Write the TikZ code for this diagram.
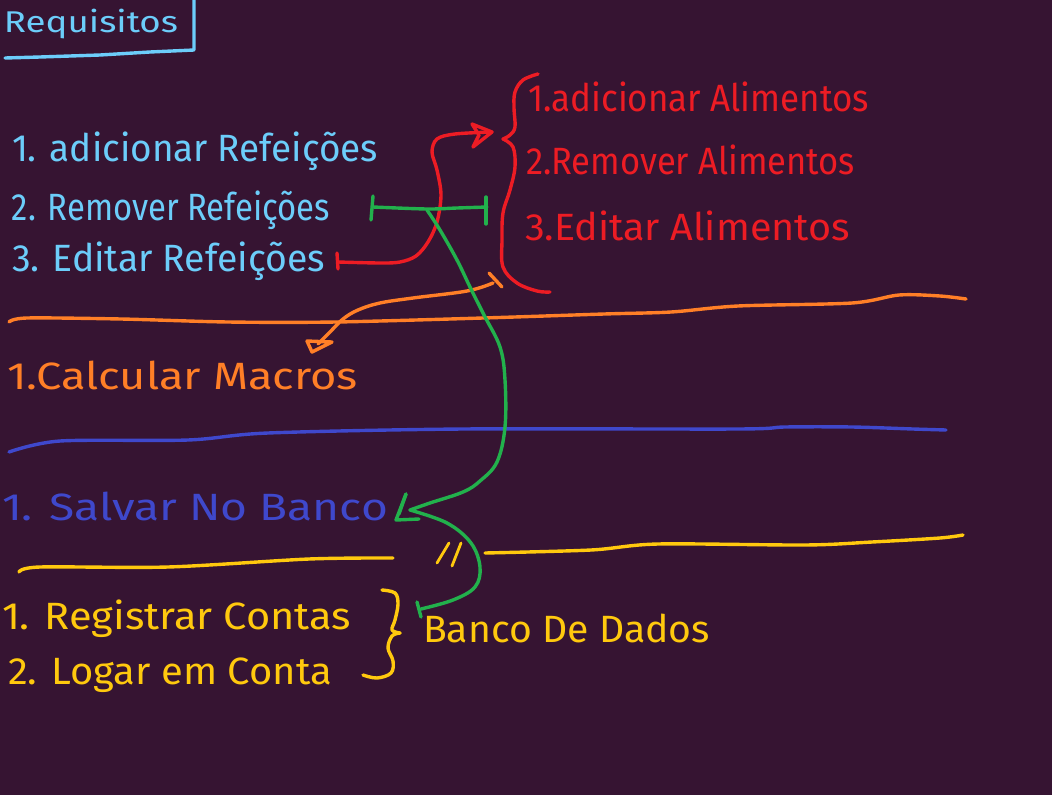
\documentclass[tikz,border=0pt]{standalone}
\usepackage{fontspec}
\setmainfont{Fira Sans}
\usepackage{graphicx}
\definecolor{bgc}{RGB}{54,20,50}
\definecolor{cblue}{RGB}{108,205,250}
\definecolor{cred}{RGB}{237,28,36}
\definecolor{corange}{RGB}{255,127,39}
\definecolor{cyellow}{RGB}{255,201,14}
\definecolor{cgreen}{RGB}{34,177,76}
\definecolor{cindigo}{RGB}{63,72,204}
\newcommand\hwfont{\fontsize{38}{40}\selectfont}
\newcommand\fitw[2]{\resizebox{#1}{\height}{#2}}
\tikzset{
  lbl/.style={anchor=base west, inner sep=0pt, outer sep=0pt, font=\hwfont},
  pen/.style={line width=3.4pt, line cap=round, line join=round},
}
\begin{document}
\begin{tikzpicture}[x=1pt,y=-1pt]
\fill[bgc] (0,0) rectangle (1052,795);
\useasboundingbox (0,0) rectangle (1052,795);

% title
\node[lbl, font=\fontsize{30}{32}\selectfont, text=cblue] (title) at (4,33) {\fitw{174pt}{Requisitos}};
\draw[pen, cblue] (194,0) -- (194,50) -- (150,52) -- (100,55) -- (40,57) -- (5,58);

% blue items
\node[lbl, text=cblue] (b1) at (12,161) {\fitw{366pt}{1. adicionar Refeições}};
\node[lbl, text=cblue] (b2) at (12,220) {\fitw{318pt}{2. Remover Refeições}};
\node[lbl, text=cblue] (b3) at (12,271) {\fitw{313pt}{3. Editar Refeições}};

% red items
\node[lbl, text=cred] (r1) at (528,111) {\fitw{341pt}{1.adicionar Alimentos}};
\node[lbl, text=cred] (r2) at (526,174) {\fitw{329pt}{2.Remover Alimentos}};
\node[lbl, text=cred] (r3) at (525,240) {\fitw{325pt}{3.Editar Alimentos}};

% red brace
\coordinate (rbtip) at (503,139);
\draw[pen, cred] plot[smooth, tension=0.6] coordinates {(538,74) (523,80) (515,92) (514,108) (515,127) (510,135) (rbtip)};
\draw[pen, cred] plot[smooth, tension=0.6] coordinates {(rbtip) (513,147) (515,167) (510,190) (503,213) (502,240) (503,267) (517,283) (537,291) (550,292)};

% red arrow
\coordinate (redtail) at (338,262);
\coordinate (redhead) at (492,132);
\draw[pen, cred] (337,253) -- (338,269);
\draw[pen, cred] plot[smooth, tension=0.55] coordinates {(redtail) (380,263) (400,262) (416,256) (428,242) (437,222) (441,195) (437,170) (432,152) (437,139) (455,134) (redhead)};
\draw[pen, cred] (472,124) -- (redhead) -- (473,147) -- (479,135) -- cycle;

% green H bar
\coordinate (gl) at (373,207);
\coordinate (gr) at (487,207);
\draw[pen, cgreen] (373,196) -- (371,220);
\draw[pen, cgreen] (486,197) -- (486,224);
\draw[pen, cgreen] plot[smooth] coordinates {(gl) (427,209) (457,208) (gr)};

% orange separator
\draw[pen, corange] plot[smooth, tension=0.5] coordinates {(9,322) (27,318) (121,319) (228,322) (336,322) (483,318) (604,314) (671,312) (738,306) (852,303) (899,295) (940,296) (966,299)};

% orange arrow
\coordinate (otail) at (493,283);
\coordinate (ohead) at (312,352);
\draw[pen, corange] (489,273) -- (502,287);
\draw[pen, corange] plot[smooth, tension=0.6] coordinates {(otail) (467,291) (413,298) (380,303) (358,310) (343,319) (330,332) (318,344)};
\draw[pen, corange] (307,341) -- (332,342) -- (ohead) -- cycle;

\node[lbl, text=corange] (o1) at (7,389) {\fitw{351pt}{1.Calcular Macros}};

% blue separator
\draw[pen, cindigo] plot[smooth, tension=0.5] coordinates {(9,452) (60,441) (188,440) (268,433) (463,429) (738,429) (785,427) (852,427) (913,429) (946,430)};

\node[lbl, text=cindigo] (s1) at (2,520) {\fitw{386pt}{1. Salvar No Banco}};

% green long arrow
\coordinate (gstart) at (427,210);
\coordinate (ghead) at (410,510);
\draw[pen, cgreen] plot[smooth, tension=0.6] coordinates {(gstart) (440,230) (457,260) (470,287) (484,315) (500,347) (505,380) (505,427) (497,462) (480,481) (463,492) (430,503) (ghead)};
\draw[pen, cgreen] (406,494) -- (396,520) -- (419,519);
\draw[pen, cgreen] (406,494) -- (399,514);

% green lower arc
\coordinate (gend) at (421,609);
\draw[pen, cgreen] plot[smooth, tension=0.6] coordinates {(ghead) (447,523) (471,543) (480,567) (475,587) (453,600) (gend)};
\draw[pen, cgreen] (417,602) -- (421,617);

% yellow separators
\draw[pen, cyellow] plot[smooth, tension=0.5] coordinates {(19,572) (40,567) (168,567) (309,559) (393,558)};
\draw[pen, cyellow] plot[smooth, tension=0.5] coordinates {(485,553) (591,550) (658,544) (805,545) (872,542) (940,538) (963,535)};
\draw[pen, cyellow, line width=2.8pt] (449,543) -- (437,563);
\draw[pen, cyellow, line width=2.8pt] (461,543) -- (452,566);

% yellow items
\node[lbl, text=cyellow] (y1) at (2,629) {\fitw{349pt}{1. Registrar Contas}};
\node[lbl, text=cyellow] (y2) at (8,684) {\fitw{324pt}{2. Logar em Conta}};

% yellow brace
\coordinate (ybtip) at (400,633);
\draw[pen, cyellow] plot[smooth, tension=0.6] coordinates {(382,590) (395,593) (398,604) (395,620) (392,630) (ybtip)};
\draw[pen, cyellow] plot[smooth, tension=0.6] coordinates {(ybtip) (392,636) (388,648) (393,661) (391,673) (377,678) (363,675)};

\node[lbl, text=cyellow] (db) at (423,642) {\fitw{287pt}{Banco De Dados}};
\end{tikzpicture}
\end{document}
